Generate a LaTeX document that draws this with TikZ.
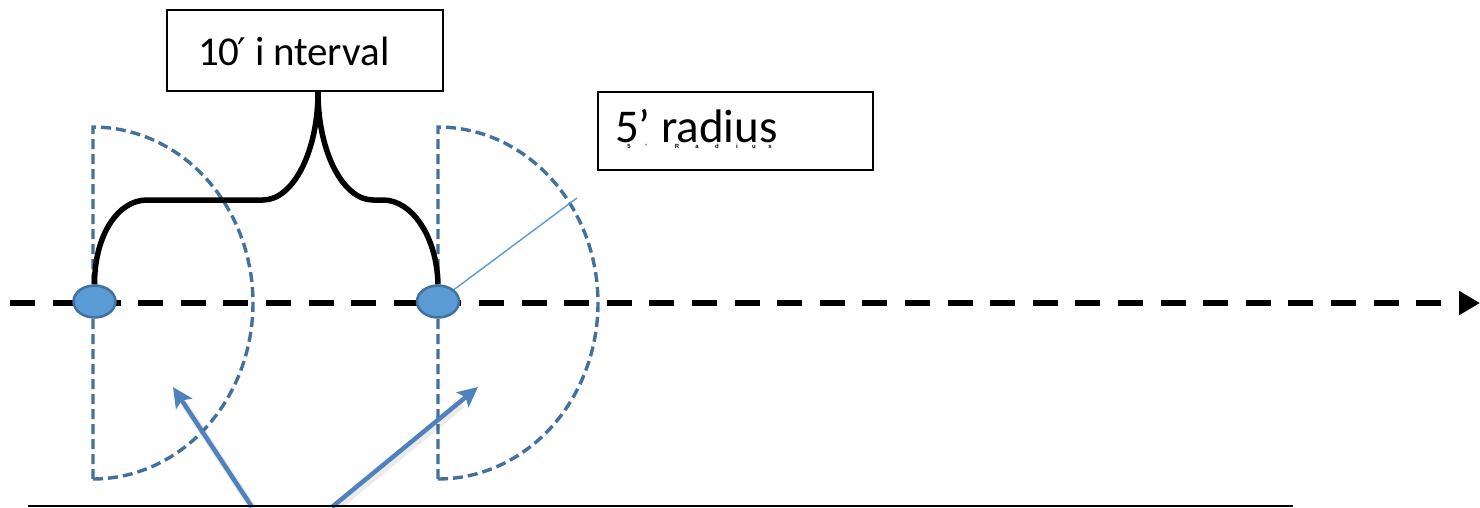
\documentclass[tikz,border=0pt]{standalone}
\usepackage{fontspec}
\setmainfont{Carlito}
\newfontfamily\smallsans{Liberation Sans}
\newfontfamily\primefont{DejaVu Sans}
\usetikzlibrary{arrows.meta,shapes.geometric,calc}
\definecolor{arcblue}{RGB}{65,113,156}
\definecolor{fillblue}{RGB}{91,155,213}
\definecolor{arrblue}{RGB}{79,129,189}
\begin{document}
\begin{tikzpicture}[x=1pt,y=-1pt,
  box/.style={draw, line width=1.8pt, rectangle, align=left, inner ysep=0pt},
  pt/.style={ellipse, draw=arcblue, fill=fillblue, line width=2.5pt, minimum width=42pt, minimum height=32pt, inner sep=0pt},
  zone/.style={draw=arcblue, line width=3.4pt, dash pattern=on 10pt off 5pt},
  axis/.style={draw=black, line width=5.5pt, dash pattern=on 25pt off 17.6pt, dash phase=32.2pt, -{Triangle[length=21pt,width=23pt]}},
  brace/.style={draw=black, line width=5.5pt},
  radline/.style={draw=fillblue, line width=1.4pt},
  pointer/.style={draw=arrblue, line width=4.5pt, -{Stealth[length=20pt,width=19pt,inset=4pt]}},
  pshadow/.style={draw=black, opacity=0.08, line width=7pt},
  tinytxt/.style={font=\smallsans\bfseries\fontsize{6}{6}\selectfont, anchor=base, inner sep=0pt},
]
\useasboundingbox (0,0) rectangle (1480,507);

% coordinates
\coordinate (L0) at (0,303);
\coordinate (L1) at (1480,303);
\coordinate (B0) at (28,505.5);
\coordinate (B1) at (1293,505.5);
\coordinate (rtip) at (577,198);
\coordinate (a1s) at (252,507);
\coordinate (a1t) at (173,387);
\coordinate (a2s) at (332,507);
\coordinate (a2t) at (478,387);

% zones (5' radius half circles)
\draw[zone] (93,479) -- (93,127) -- plot[domain=-90:90, samples=90] ({93+160*cos(\x)},{303+176*sin(\x)});
\draw[zone] (438,479) -- (438,127) -- plot[domain=-90:90, samples=90] ({438+160*cos(\x)},{303+176*sin(\x)});

% main axis
\draw[axis] (L0) -- (L1);

% points
\node[pt] (p1) at (94.5,301.5) {};
\node[pt] (p2) at (438,301.5) {};

% radius line
\draw[radline] (p2) -- (rtip);

% boxes
\node[box, minimum width=276pt, minimum height=81pt, inner xsep=31pt,
      text height=30pt, text depth=1pt, font=\fontsize{41}{41}\selectfont] (box1) at (305,50.5)
      {\makebox[214pt][l]{10{\primefont\fontsize{38}{38}\selectfont\kern-2pt′} i\kern-1pt\ nterval}};
\node[box, minimum width=275pt, minimum height=78pt, inner xsep=17pt,
      text height=22pt, text depth=0pt, font=\fontsize{47}{47}\selectfont] (box2) at (735.5,131)
      {\makebox[241pt][l]{5’ radius}};

% tiny text
\foreach \c/\xx [count=\i] in {5/629, '/646, R/677, a/697, d/717, i/737, u/754, s/770}
  \node[tinytxt] (tt\i) at (\xx,148) {\c};

% brace
\draw[brace] (p1.north) .. controls (94.5,235) and (118,200) .. (147,200) -- (263,200)
  .. controls (293,200) and (318,152) .. ([xshift=13pt]box1.south)
  .. controls (318,152) and (343,200) .. (373,200) -- (383,200)
  .. controls (412,200) and (437,237) .. (p2.north);

% pointers
\draw[pshadow] ($(a1s)+(2,3)$) -- ($(a1t)!0.12!(a1s)+(2,3)$);
\draw[pshadow] ($(a2s)+(2,3)$) -- ($(a2t)!0.12!(a2s)+(2,3)$);
\draw[pointer] (a1s) -- (a1t);
\draw[pointer] (a2s) -- (a2t);

% bottom line
\draw[line width=2pt] (B0) -- (B1);
\end{tikzpicture}
\end{document}
